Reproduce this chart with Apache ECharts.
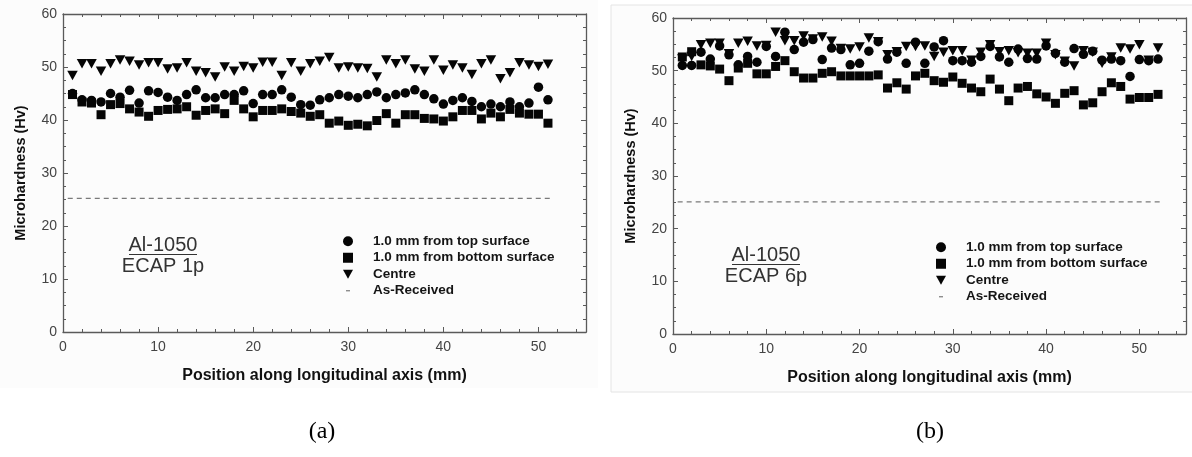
<!DOCTYPE html>
<html lang="en">
<head>
    <meta charset="UTF-8">
    <title>Microhardness Al-1050 ECAP</title>
    <script src="https://cdn.jsdelivr.net/npm/echarts@6/dist/echarts.min.js"></script>
    <style>
        body { margin: 0; background: #fff; }
    </style>
</head>
<body>
<div id="main" style="width: 1192px;height:457px;"></div>
<script>
    // panel (a) - ECAP 1p
    var posA = [1,2,3,4,5,6,7,8,9,10,11,12,13,14,15,16,17,18,19,20,21,22,23,24,25,26,27,28,29,30,
                31,32,33,34,35,36,37,38,39,40,41,42,43,44,45,46,47,48,49,50,51];
    var topA = [45.0,43.8,43.7,43.4,45.0,44.3,45.6,43.2,45.5,45.2,44.3,43.7,44.8,45.7,44.2,44.2,44.8,44.8,45.5,43.1,
                44.8,44.8,45.7,44.3,42.9,42.8,43.8,44.2,44.8,44.5,44.2,44.8,45.3,44.2,44.8,45.1,45.7,44.8,44.0,43.0,
                43.7,44.2,43.5,42.5,43.0,42.5,43.4,42.5,43.2,46.2,43.8];
    var bottomA = [44.8,43.4,43.2,41.0,42.9,43.1,42.1,41.5,40.7,41.8,42.0,42.1,42.5,40.9,41.8,42.1,41.2,43.7,42.1,40.6,
                   41.8,41.8,42.1,41.6,41.3,40.7,41.0,39.4,39.8,39.0,39.2,38.9,39.9,41.2,39.4,41.0,41.0,40.3,40.2,39.8,
                   40.6,41.8,41.8,40.2,41.3,40.6,42.0,41.3,41.1,41.1,39.4];
    var centreA = [48.4,50.6,50.6,49.2,50.6,51.3,51.1,50.4,50.8,50.8,49.6,49.8,50.8,49.2,48.9,48.1,50.0,49.2,50.1,49.8,
                   50.9,50.9,48.4,50.8,49.2,50.6,51.1,51.8,49.8,50.0,49.8,49.7,48.1,51.3,50.6,51.3,49.6,49.2,51.3,49.4,
                   50.4,49.8,48.6,50.6,51.3,47.8,48.9,50.8,50.4,50.1,50.5];
    var asReceivedA = [[0.5, 25.2], [51.5, 25.2]];

    // panel (b) - ECAP 6p
    var posB = [1,2,3,4,5,6,7,8,9,10,11,12,13,14,15,16,17,18,19,20,21,22,23,24,25,26,27,28,29,30,
                31,32,33,34,35,36,37,38,39,40,41,42,43,44,45,46,47,48,49,50,51,52];
    var topB = [51.0,51.0,53.5,52.2,54.7,53.0,51.1,52.7,51.6,54.6,52.7,57.3,54.0,55.4,55.9,52.1,54.3,54.0,51.1,51.4,
                53.7,55.5,52.2,53.5,51.4,55.4,51.4,54.5,55.7,51.9,51.9,51.6,52.7,54.6,52.6,51.6,54.1,52.3,52.2,54.7,
                53.3,51.6,54.2,53.1,53.7,52.0,52.2,51.9,48.9,52.1,51.9,52.2];
    var bottomB = [52.6,53.6,51.1,50.9,50.3,48.1,50.5,51.4,49.4,49.4,50.8,51.9,49.8,48.6,48.6,49.5,49.8,49.0,49.0,49.0,
                   49.0,49.2,46.7,47.7,46.5,49.0,49.5,48.1,47.8,48.8,47.6,46.7,46.0,48.4,46.5,44.3,46.7,47.0,45.6,45.0,
                   43.8,45.7,46.2,43.5,43.9,46.0,47.7,47.0,44.6,44.9,44.9,45.5];
    var centreB = [52.2,52.7,54.9,55.2,55.2,53.2,55.2,55.6,54.7,54.8,57.3,55.7,55.7,56.6,56.0,56.4,55.6,54.2,54.1,54.5,
                   56.2,55.5,53.0,53.6,54.6,54.6,54.7,52.7,53.5,53.8,53.8,52.0,53.5,54.9,53.6,53.8,53.4,53.3,53.3,55.2,
                   53.0,51.8,50.9,53.8,53.5,51.4,52.6,54.3,54.1,54.9,52.0,54.3];
    var asReceivedB = [[0.5, 25.1], [52.5, 25.1]];

    var xTicks = {min: 0, max: 55, interval: 10};
    var yTicks = {min: 0, max: 60, interval: 10};
    var names = ['1.0 mm from top surface', '1.0 mm from bottom surface', 'Centre', 'As-Received'];

    var FONT = 'Liberation Sans, Arial, sans-serif';
    var AXIS_COLOR = '#5a5a5a';
    var MARK = '#050505';
    var TRI = 'path://M0,0L10,0L5,9Z';

    function pairs(xs, ys) {
        return xs.map(function (x, i) { return [x, ys[i]]; });
    }

    function xAxis(grid, pos, withText) {
        return {
            type: 'value', gridIndex: grid, position: pos,
            min: xTicks.min, max: xTicks.max, interval: xTicks.interval,
            name: withText ? 'Position along longitudinal axis (mm)' : '',
            nameLocation: 'middle', nameGap: 36,
            nameTextStyle: {fontFamily: FONT, fontWeight: 'bold', fontSize: 16, color: '#111'},
            axisLine: {show: true, onZero: false, lineStyle: {color: AXIS_COLOR, width: 1.3}},
            axisTick: {show: true, inside: true, length: 5, lineStyle: {color: AXIS_COLOR}},
            minorTick: {show: true, splitNumber: 5, length: 3, lineStyle: {color: AXIS_COLOR}},
            axisLabel: {show: withText, margin: 8, showMaxLabel: false,
                fontFamily: FONT, fontSize: 14, color: '#444'},
            splitLine: {show: false}
        };
    }

    function yAxis(grid, pos, withText) {
        return {
            type: 'value', gridIndex: grid, position: pos,
            min: yTicks.min, max: yTicks.max, interval: yTicks.interval,
            name: withText ? 'Microhardness (Hv)' : '',
            nameLocation: 'middle', nameGap: 35,
            nameTextStyle: {fontFamily: FONT, fontWeight: 'bold', fontSize: 14.5, color: '#111'},
            axisLine: {show: true, onZero: false, lineStyle: {color: AXIS_COLOR, width: 1.3}},
            axisTick: {show: true, inside: true, length: 5, lineStyle: {color: AXIS_COLOR}},
            minorTick: {show: true, splitNumber: 4, length: 3, lineStyle: {color: AXIS_COLOR}},
            axisLabel: {show: withText, margin: 6, fontFamily: FONT, fontSize: 14, color: '#444'},
            splitLine: {show: false}
        };
    }

    function panelSeries(ax, pos, top, bottom, centre, asReceived) {
        return [
            {name: names[0], type: 'scatter', xAxisIndex: ax, yAxisIndex: ax,
             symbol: 'circle', symbolSize: 9.5, itemStyle: {color: MARK, opacity: 1}, data: pairs(pos, top)},
            {name: names[1], type: 'scatter', xAxisIndex: ax, yAxisIndex: ax,
             symbol: 'rect', symbolSize: 9, itemStyle: {color: MARK, opacity: 1}, data: pairs(pos, bottom)},
            {name: names[2], type: 'scatter', xAxisIndex: ax, yAxisIndex: ax,
             symbol: TRI, symbolSize: [10.5, 9.5], itemStyle: {color: MARK, opacity: 1}, data: pairs(pos, centre)},
            {name: names[3], type: 'line', xAxisIndex: ax, yAxisIndex: ax, symbol: 'none',
             lineStyle: {color: '#7a7a7a', width: 1.3, type: [5, 4]}, itemStyle: {color: '#7a7a7a'},
             data: asReceived}
        ];
    }

    function legend(left, top) {
        return {
            orient: 'vertical', left: left, top: top, padding: 0,
            itemWidth: 10, itemHeight: 10, itemGap: 2,
            selectedMode: false,
            textStyle: {fontFamily: FONT, fontWeight: 'bold', fontSize: 13.5, lineHeight: 14.5,
                color: '#151515', padding: [0, 0, 0, 15]},
            data: [
                {name: names[0], icon: 'circle'},
                {name: names[1], icon: 'path://M1,1L9,1L9,9L1,9Z'},
                {name: names[2], icon: 'path://M0,0L10,0L5,9Z'},
                {name: names[3], icon: 'path://M0,0M10,10M3,4.4L7,4.4L7,5.6L3,5.6Z'}
            ]
        };
    }

    var myChart = echarts.init(document.getElementById('main'));
    var option = {
        backgroundColor: '#ffffff',
        animation: false,
        grid: [
            {left: 63, top: 14, width: 523, height: 318},
            {left: 673, top: 18, width: 513, height: 316}
        ],
        xAxis: [xAxis(0, 'bottom', true), xAxis(0, 'top', false), xAxis(1, 'bottom', true), xAxis(1, 'top', false)],
        yAxis: [yAxis(0, 'left', true), yAxis(0, 'right', false), yAxis(1, 'left', true), yAxis(1, 'right', false)],
        legend: [legend(343, 234), legend(936, 240)],
        series: panelSeries(0, posA, topA, bottomA, centreA, asReceivedA)
            .concat(panelSeries(2, posB, topB, bottomB, centreB, asReceivedB)),
        graphic: [
            {type: 'rect', z: -10, shape: {x: 0, y: 0, width: 598, height: 388}, style: {fill: '#fcfcfc'}},
            {type: 'rect', z: -10, shape: {x: 611, y: 5, width: 590, height: 387},
             style: {fill: '#fcfcfc', stroke: '#e4e4e4', lineWidth: 1}},
            {type: 'text', x: 163, y: 245, style: {text: 'Al-1050', fontFamily: FONT, fontSize: 20,
                fill: '#333', align: 'center', verticalAlign: 'middle'}},
            {type: 'line', shape: {x1: 129, y1: 254.5, x2: 197, y2: 254.5}, style: {stroke: '#333', lineWidth: 1.2}},
            {type: 'text', x: 163, y: 266, style: {text: 'ECAP 1p', fontFamily: FONT, fontSize: 20,
                fill: '#333', align: 'center', verticalAlign: 'middle'}},
            {type: 'text', x: 766, y: 255, style: {text: 'Al-1050', fontFamily: FONT, fontSize: 20,
                fill: '#333', align: 'center', verticalAlign: 'middle'}},
            {type: 'line', shape: {x1: 732, y1: 264.5, x2: 800, y2: 264.5}, style: {stroke: '#333', lineWidth: 1.2}},
            {type: 'text', x: 766, y: 276, style: {text: 'ECAP 6p', fontFamily: FONT, fontSize: 20,
                fill: '#333', align: 'center', verticalAlign: 'middle'}},
            {type: 'text', x: 322, y: 432, style: {text: '(a)', fontFamily: 'Liberation Serif, serif', fontSize: 24,
                fill: '#000', align: 'center', verticalAlign: 'middle'}},
            {type: 'text', x: 930, y: 432, style: {text: '(b)', fontFamily: 'Liberation Serif, serif', fontSize: 24,
                fill: '#000', align: 'center', verticalAlign: 'middle'}}
        ]
    };
    myChart.setOption(option);
</script>
</body>
</html>
